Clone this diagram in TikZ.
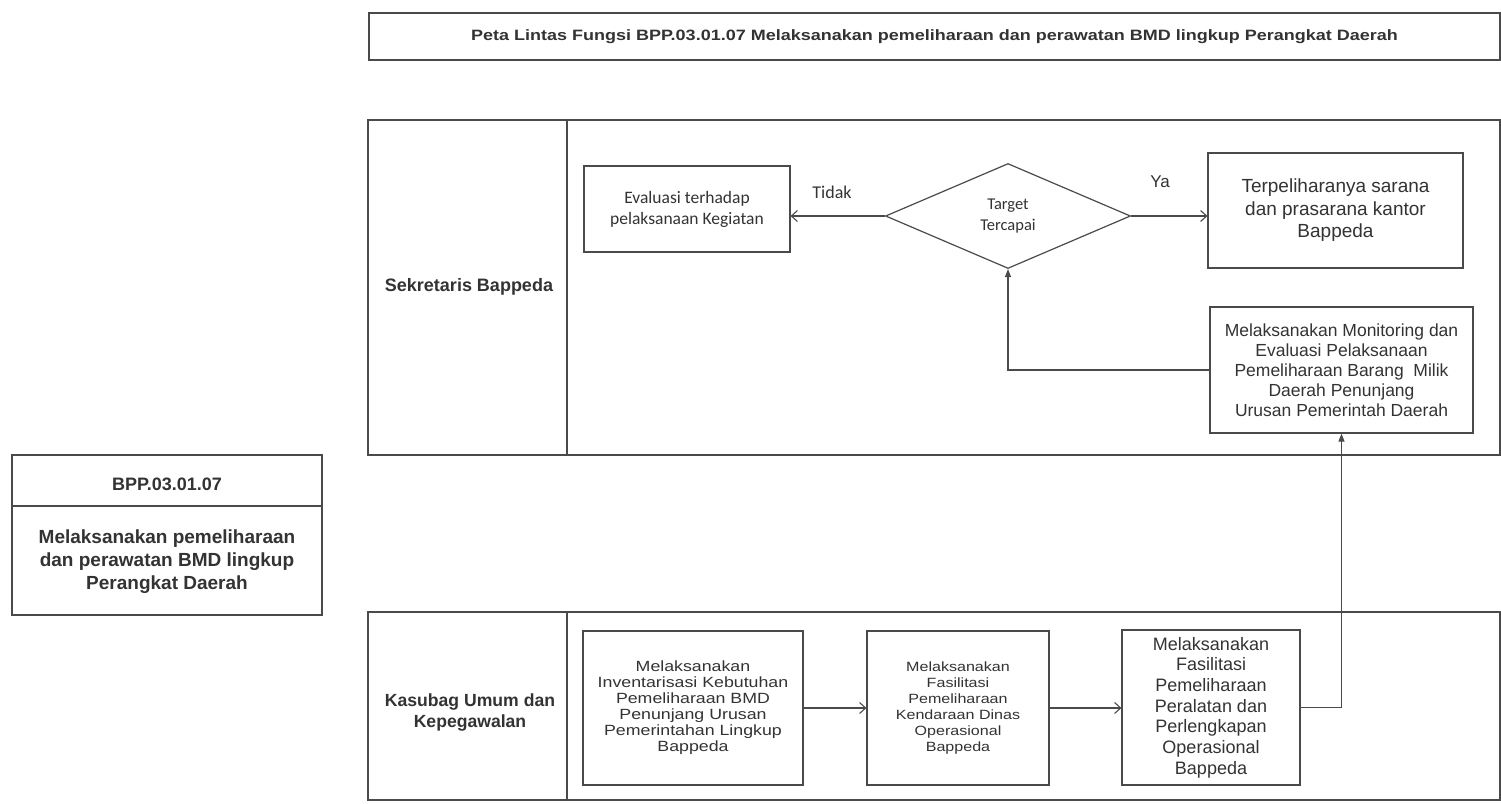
\documentclass[tikz,border=0pt]{standalone}
\usepackage{fontspec}
\setmainfont{Liberation Sans}
\newfontfamily\calib{Carlito}
\newfontfamily\widefont{Liberation Sans}[FakeStretch=1.2]
\usetikzlibrary{arrows.meta,shapes.geometric}
\definecolor{ln}{HTML}{4A4A4A}
\definecolor{tx}{HTML}{333333}
\begin{document}
\begin{tikzpicture}[x=1pt,y=-1pt,
  frame/.style={draw=ln,line width=1.2pt},
  box/.style={draw=ln,line width=1.2pt,fill=white,text=tx,align=center,inner sep=0pt},
  txt/.style={text=tx,align=center,inner sep=0pt},
  openarr/.style={draw=ln,line width=1.1pt,-{Straight Barb[length=6pt,width=11pt,line width=1.1pt]}},
  fillarr/.style={draw=ln,line width=1.1pt,-{Triangle[length=8pt,width=6pt]}}
]
\useasboundingbox[fill=white] (0,0) rectangle (1501,803);

% title
\node[box,minimum width=1131pt,minimum height=47pt,font=\widefont\bfseries\fontsize{15}{18}\selectfont] (title) at (934.5,36.5)
  {Peta Lintas Fungsi BPP.03.01.07 Melaksanakan pemeliharaan dan perawatan BMD lingkup Perangkat Daerah};

% left id box
\node[box,minimum width=310pt,minimum height=51pt] (idtop) at (167,480.5) {};
\node[box,minimum width=310pt,minimum height=109pt] (idbot) at (167,560.5) {};
\node[txt,font=\bfseries\fontsize{18}{21}\selectfont] (idcode) at (167,484) {BPP.03.01.07};
\node[txt,font=\bfseries\fontsize{19}{23}\selectfont] (idname) at (167,562)
  {Melaksanakan pemeliharaan\\dan perawatan BMD lingkup\\Perangkat Daerah};

% lanes
\draw[frame] (368,120) rectangle (1500,455);
\draw[frame] (567,120) -- (567,455);
\draw[frame] (368,612) rectangle (1500,800);
\draw[frame] (567,612) -- (567,800);
\node[txt,font=\bfseries\fontsize{18}{21}\selectfont] (lane1) at (469,287) {Sekretaris Bappeda};
\node[txt,font=\bfseries\fontsize{17.6}{21}\selectfont] (lane2) at (470,712) {Kasubag Umum dan\\Kepegawalan};

% lane 1 content
\node[box,minimum width=206pt,minimum height=86pt,font=\calib\fontsize{17.5}{21}\selectfont] (eval) at (687,209)
  {Evaluasi terhadap\\pelaksanaan Kegiatan};
\node[box,diamond,minimum width=245pt,minimum height=105pt,font=\calib\fontsize{16.5}{21}\selectfont] (dia) at (1008,216)
  {Target\\Tercapai};
\node[box,minimum width=255pt,minimum height=115pt,font=\fontsize{19}{22.5}\selectfont] (terp) at (1335.5,210.5)
  {Terpeliharanya sarana\\dan prasarana kantor\\Bappeda};
\node[box,minimum width=263pt,minimum height=126pt,font=\fontsize{17.5}{20}\selectfont] (mon) at (1341.5,370)
  {Melaksanakan Monitoring dan\\Evaluasi Pelaksanaan\\Pemeliharaan Barang\ \ Milik\\Daerah Penunjang\\Urusan Pemerintah Daerah};
\node[txt,font=\calib\fontsize{18}{21}\selectfont] (tidak) at (832,192) {Tidak};
\node[txt,font=\fontsize{17}{20}\selectfont] (ya) at (1160,182) {Ya};

% lane 2 content
\node[box,minimum width=220pt,minimum height=154pt,font=\widefont\fontsize{14.8}{16}\selectfont] (b1) at (693,708)
  {Melaksanakan\\Inventarisasi Kebutuhan\\Pemeliharaan BMD\\Penunjang Urusan\\Pemerintahan Lingkup\\Bappeda};
\node[box,minimum width=182pt,minimum height=154pt,font=\widefont\fontsize{13.4}{16}\selectfont] (b2) at (958,708)
  {Melaksanakan\\Fasilitasi\\Pemeliharaan\\Kendaraan Dinas\\Operasional\\Bappeda};
\node[box,minimum width=178pt,minimum height=155pt,font=\fontsize{18}{20.7}\selectfont] (b3) at (1211,707.5)
  {Melaksanakan\\Fasilitasi\\Pemeliharaan\\Peralatan dan\\Perlengkapan\\Operasional\\Bappeda};

% connectors
\draw[openarr] (dia.west) -- (dia.west -| eval.east);
\draw[openarr] (dia.east) -- (dia.east -| terp.west);
\draw[fillarr] (mon.west) -| (dia.south);
\draw[openarr] (b1.east) -- (b1.east -| b2.west);
\draw[openarr] (b2.east) -- (b2.east -| b3.west);
\draw[fillarr] (b3.east) -| (mon.south);
\end{tikzpicture}
\end{document}
